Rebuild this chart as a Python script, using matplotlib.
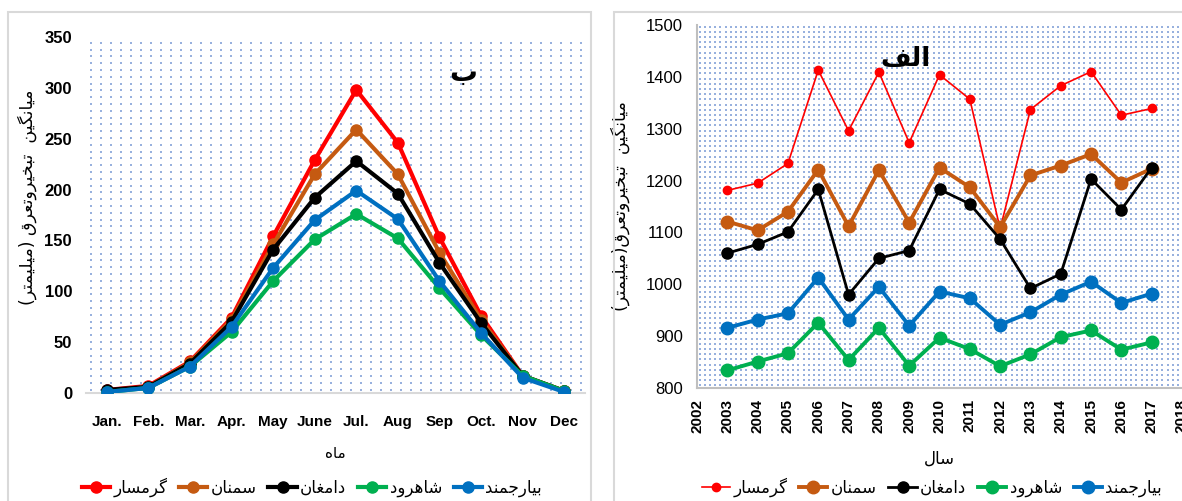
import matplotlib
matplotlib.use('Agg')
import matplotlib.pyplot as plt
import numpy as np
from matplotlib.patches import Rectangle

# monthly means (left panel, "ب")
months = ['Jan.', 'Feb.', 'Mar.', 'Apr.', 'May', 'June', 'Jul.', 'Aug', 'Sep', 'Oct.', 'Nov', 'Dec']
m_garmsar = [3, 7, 31, 74, 154, 229, 298, 246, 153, 76, 17, 2]
m_semnan = [2, 6, 30, 72, 146, 215, 259, 215, 138, 72, 17, 2]
m_damghan = [3, 6, 29, 70, 141, 192, 228, 196, 128, 69, 17, 2]
m_shahrud = [1, 5, 26, 60, 110, 151, 176, 152, 103, 57, 17, 2]
m_biarjomand = [1, 5, 26, 65, 123, 170, 199, 171, 110, 59, 15, 1]

# yearly totals (right panel, "الف")
years = list(range(2003, 2018))
y_garmsar = [1181, 1195, 1233, 1413, 1296, 1409, 1273, 1404, 1357, 1107, 1337, 1383, 1410, 1326, 1339]
y_semnan = [1121, 1104, 1140, 1221, 1112, 1220, 1119, 1225, 1187, 1110, 1210, 1229, 1251, 1196, 1223]
y_damghan = [1060, 1077, 1101, 1183, 980, 1050, 1065, 1183, 1155, 1087, 992, 1020, 1203, 1144, 1225]
y_shahrud = [834, 851, 867, 926, 854, 916, 843, 897, 875, 842, 865, 898, 911, 874, 888]
y_biarjomand = [916, 932, 944, 1013, 932, 995, 920, 986, 973, 922, 946, 980, 1005, 964, 982]

# --- tiny persian shaper (matplotlib has no text shaping) ---
FORMS = {  # isolated, final, initial, medial
    'ا': ('\uFE8D', '\uFE8E', None, None), 'ب': ('\uFE8F', '\uFE90', '\uFE91', '\uFE92'),
    'ت': ('\uFE95', '\uFE96', '\uFE97', '\uFE98'), 'ج': ('\uFE9D', '\uFE9E', '\uFE9F', '\uFEA0'),
    'خ': ('\uFEA5', '\uFEA6', '\uFEA7', '\uFEA8'), 'د': ('\uFEA9', '\uFEAA', None, None),
    'ر': ('\uFEAD', '\uFEAE', None, None), 'س': ('\uFEB1', '\uFEB2', '\uFEB3', '\uFEB4'),
    'ش': ('\uFEB5', '\uFEB6', '\uFEB7', '\uFEB8'), 'ع': ('\uFEC9', '\uFECA', '\uFECB', '\uFECC'),
    'غ': ('\uFECD', '\uFECE', '\uFECF', '\uFED0'), 'ف': ('\uFED1', '\uFED2', '\uFED3', '\uFED4'),
    'ق': ('\uFED5', '\uFED6', '\uFED7', '\uFED8'), 'ل': ('\uFEDD', '\uFEDE', '\uFEDF', '\uFEE0'),
    'م': ('\uFEE1', '\uFEE2', '\uFEE3', '\uFEE4'), 'ن': ('\uFEE5', '\uFEE6', '\uFEE7', '\uFEE8'),
    'ه': ('\uFEE9', '\uFEEA', '\uFEEB', '\uFEEC'), 'و': ('\uFEED', '\uFEEE', None, None),
    'گ': ('\uFB92', '\uFB93', '\uFB94', '\uFB95'), 'ی': ('\uFBFC', '\uFBFD', '\uFBFE', '\uFBFF'),
}
MIRROR = {'(': ')', ')': '('}


def fa(s):
    out = []
    for i, c in enumerate(s):
        if c not in FORMS:
            out.append(MIRROR.get(c, c))
            continue
        p = s[i - 1] if i > 0 else ''
        n = s[i + 1] if i + 1 < len(s) else ''
        jp = p in FORMS and FORMS[p][2] is not None
        jn = n in FORMS and FORMS[c][2] is not None
        iso, fin, ini, med = FORMS[c]
        if jp and jn:
            out.append(med)
        elif jp:
            out.append(fin)
        elif jn:
            out.append(ini)
        else:
            out.append(iso)
    return ''.join(reversed(out))


def dotted_bg(ax, wpx, hpx, dx, dy):
    # light blue dot pattern behind the plot, like the excel fill
    xs = np.arange(dx / 2, wpx, dx) / wpx
    ys = np.arange(dy / 2, hpx, dy) / hpx
    gx, gy = np.meshgrid(xs, ys)
    ax.scatter(gx.ravel(), gy.ravel(), s=1.3, marker='s', color='#4472c4', alpha=0.55,
               linewidths=0, transform=ax.transAxes, zorder=0)


names = ['گرمسار', 'سمنان', 'دامغان', 'شاهرود', 'بیارجمند']
colors = ['#FF0000', '#C55A11', '#000000', '#00B050', '#0070C0']

NUM = ['Liberation Sans Narrow', 'Liberation Sans', 'DejaVu Sans']
AR = ['DejaVu Sans']

fig = plt.figure(figsize=(11.82, 5.01), dpi=100)

# panel frames
for x0, x1 in [(8, 591), (614, 1190)]:
    fig.patches.append(Rectangle((x0 / 1182, -0.05), (x1 - x0) / 1182, (501 - 12) / 501 + 0.05,
                                 transform=fig.transFigure, fill=False,
                                 edgecolor='#d9d9d9', lw=1.5))

# ---------- left panel ----------
ax1 = fig.add_axes([86 / 1182, (501 - 393) / 501, (585 - 86) / 1182, 356 / 501])
dotted_bg(ax1, 499, 356, 10, 6.8)
monthly = [m_garmsar, m_semnan, m_damghan, m_shahrud, m_biarjomand]
lines1 = []
for name, vals, c in zip(names, monthly, colors):
    l, = ax1.plot(range(len(months)), vals, color=c, lw=3, marker='o', ms=8,
                  label=fa(name), zorder=3)
    lines1.append(l)
ax1.set_xlim(-0.5, 11.5)
ax1.set_ylim(0, 350)
ax1.set_yticks(range(0, 351, 50))
ax1.set_xticks(range(len(months)))
ax1.set_xticklabels(months)
for s in ['top', 'right', 'left']:
    ax1.spines[s].set_visible(False)
ax1.spines['bottom'].set_color('#d9d9d9')
ax1.spines['bottom'].set_linewidth(1.5)
ax1.tick_params(length=0)
ax1.tick_params(axis='y', pad=10)
ax1.tick_params(axis='x', pad=16)
for t in ax1.get_yticklabels():
    t.set_family(NUM); t.set_fontweight('bold'); t.set_fontsize(12)
for t in ax1.get_xticklabels():
    t.set_family(NUM); t.set_fontweight('bold'); t.set_fontsize(11)
ax1.set_xlabel(fa('ماه'), family=AR, fontsize=11, labelpad=12)
ax1.set_ylabel(fa('میانگین  تبخیروتعرق (میلیمتر)'), family=AR, fontsize=12.5)
ax1.yaxis.set_label_coords(-0.098, 0.55)
ax1.text(0.755, 0.9, fa('ب'), transform=ax1.transAxes, family=AR, fontsize=20,
         fontweight='bold', ha='center', va='center')
fig.legend(handles=lines1, loc='center', bbox_to_anchor=(312 / 1182, 1 - 487 / 501),
           ncol=5, frameon=False, prop={'family': AR, 'size': 12},
           handlelength=1.7, handletextpad=0.2, columnspacing=0.7)

# ---------- right panel ----------
ax2 = fig.add_axes([697 / 1182, (501 - 388) / 501, (1182 - 697) / 1182, 363 / 501])
dotted_bg(ax2, 485, 363, 5.2, 5.2)
yearly = [y_garmsar, y_semnan, y_damghan, y_shahrud, y_biarjomand]
widths = [1.2, 2.8, 2.0, 2.8, 2.8]
sizes = [6, 9, 8, 9, 9]
lines2 = []
for name, vals, c, w, m in zip(names, yearly, colors, widths, sizes):
    l, = ax2.plot(years, vals, color=c, lw=w, marker='o', ms=m, label=fa(name), zorder=3)
    lines2.append(l)
ax2.set_xlim(2002, 2018)
ax2.set_ylim(800, 1500)
ax2.set_xticks(range(2002, 2019))
ax2.set_yticks(range(800, 1501, 100))
for s in ['top', 'right']:
    ax2.spines[s].set_visible(False)
for s in ['left', 'bottom']:
    ax2.spines[s].set_color('#bfbfbf')
    ax2.spines[s].set_linewidth(1.5)
ax2.tick_params(length=0)
ax2.tick_params(axis='y', pad=10)
ax2.tick_params(axis='x', pad=8, rotation=90)
for t in ax2.get_yticklabels():
    t.set_family(NUM); t.set_fontsize(12)
for t in ax2.get_xticklabels():
    t.set_family(NUM); t.set_fontweight('bold'); t.set_fontsize(11)
ax2.set_xlabel(fa('سال'), family=AR, fontsize=12, labelpad=12)
ax2.set_ylabel(fa('میانگین  تبخیروتعرق(میلیمتر)'), family=AR, fontsize=12.5)
ax2.yaxis.set_label_coords(-0.138, 0.5)
ax2.text(0.43, 0.905, fa('الف'), transform=ax2.transAxes, family=AR, fontsize=19,
         fontweight='bold', ha='center', va='center')
fig.legend(handles=lines2, loc='center', bbox_to_anchor=(932 / 1182, 1 - 487 / 501),
           ncol=5, frameon=False, prop={'family': AR, 'size': 12},
           handlelength=1.7, handletextpad=0.2, columnspacing=0.7)

fig.savefig('out.png', dpi=100)
